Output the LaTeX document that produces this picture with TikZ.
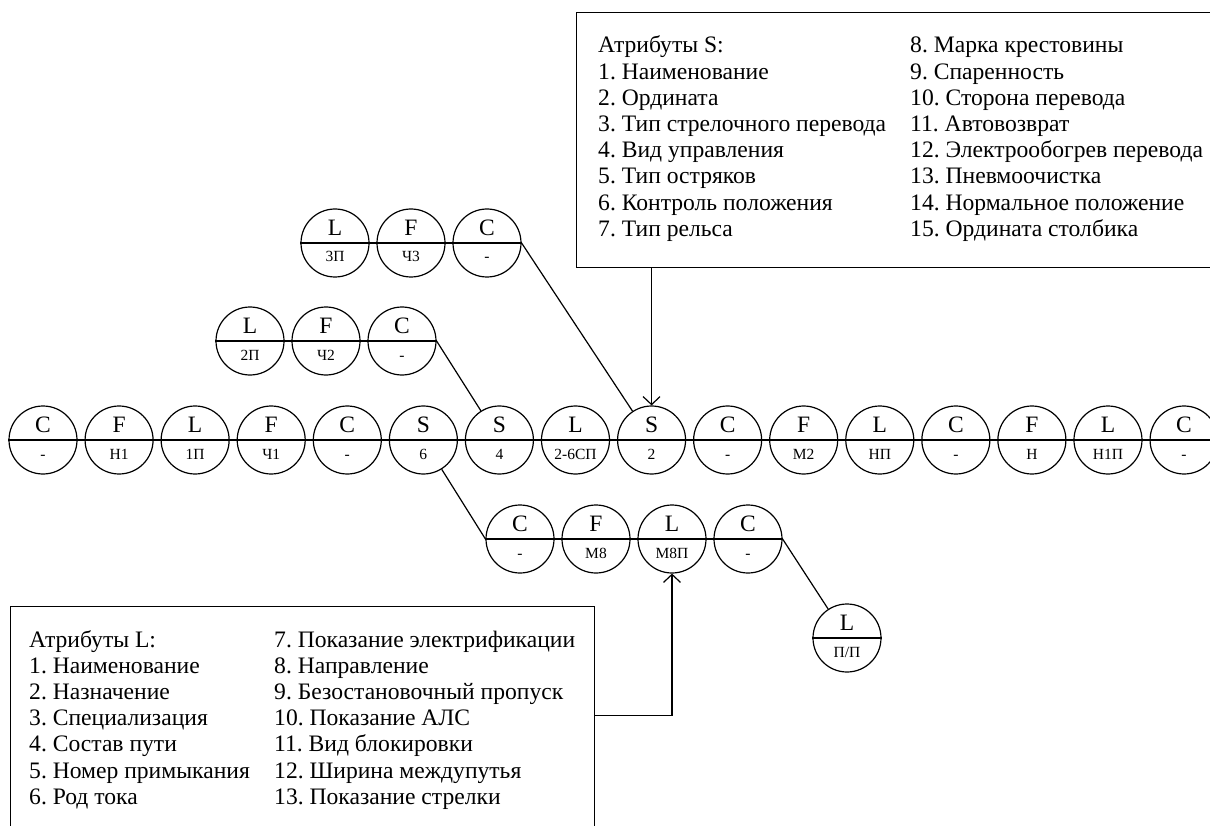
\documentclass[tikz,border=0pt]{standalone}
\usepackage{fontspec}
\setmainfont{Liberation Serif}
\usetikzlibrary{arrows.meta,calc}
\frenchspacing
\tikzset{
  elemc/.style={draw, circle, minimum size=68pt, inner sep=0pt, line width=1.2pt},
  toptxt/.style={anchor=base, inner sep=0pt, font=\fontsize{23.5}{26}\selectfont},
  bottxt/.style={anchor=base, inner sep=0pt, font=\fontsize{15.5}{17}\selectfont},
  chainline/.style={line width=1.2pt},
  conn/.style={line width=1.2pt},
  arr/.style={line width=1.2pt, -{Straight Barb[length=8pt,width=17pt]}},
  attrbox/.style={draw, line width=1.2pt, inner sep=0pt},
  attrtxt/.style={anchor=base west, inner sep=0pt, font=\fontsize{23.6}{26.2}\selectfont},
}
\newcommand\elem[5]{%
  \node[elemc] (#1) at (#2,#3) {};
  \node[toptxt] (#1t) at ([yshift=7.7pt]#1.center) {#4};
  \node[bottxt] (#1b) at ([yshift=-19pt]#1.center) {#5};
}
\begin{document}
\begin{tikzpicture}[x=1pt,y=-1pt]
\useasboundingbox (0,0) rectangle (1210,826);
\clip (0,0) rectangle (1210,826);

% attribute boxes
\node[attrbox, anchor=north west, minimum width=660pt, minimum height=255pt] (sbox) at (575.5,12) {};
\node[attrtxt] (scol1) at (598,53) {\begin{tabular}[t]{@{}l@{}}
Атрибуты S:\\
1. Наименование\\
2. Ордината\\
3. Тип стрелочного перевода\\
4. Вид управления\\
5. Тип остряков\\
6. Контроль положения\\
7. Тип рельса
\end{tabular}};
\node[attrtxt] (scol2) at (910,53) {\begin{tabular}[t]{@{}l@{}}
8. Марка крестовины\\
9. Спаренность\\
10. Сторона перевода\\
11. Автовозврат\\
12. Электрообогрев перевода\\
13. Пневмоочистка\\
14. Нормальное положение\\
15. Ордината столбика
\end{tabular}};

\node[attrbox, anchor=north west, minimum width=584pt, minimum height=240pt] (lbox) at (10,606) {};
\node[attrtxt] (lcol1) at (29,647) {\begin{tabular}[t]{@{}l@{}}
Атрибуты L:\\
1. Наименование\\
2. Назначение\\
3. Специализация\\
4. Состав пути\\
5. Номер примыкания\\
6. Род тока
\end{tabular}};
\node[attrtxt] (lcol2) at (274,647) {\begin{tabular}[t]{@{}l@{}}
7. Показание электрификации\\
8. Направление\\
9. Безостановочный пропуск\\
10. Показание АЛС\\
11. Вид блокировки\\
12. Ширина междупутья\\
13. Показание стрелки
\end{tabular}};

% main row
\elem{m0}{43}{440}{C}{-}
\elem{m1}{119.07}{440}{F}{Н1}
\elem{m2}{195.14}{440}{L}{1П}
\elem{m3}{271.21}{440}{F}{Ч1}
\elem{m4}{347.28}{440}{C}{-}
\elem{m5}{423.35}{440}{S}{6}
\elem{m6}{499.42}{440}{S}{4}
\elem{m7}{575.49}{440}{L}{2-6СП}
\elem{m8}{651.56}{440}{S}{2}
\elem{m9}{727.63}{440}{C}{-}
\elem{m10}{803.7}{440}{F}{М2}
\elem{m11}{879.77}{440}{L}{НП}
\elem{m12}{955.84}{440}{C}{-}
\elem{m13}{1031.91}{440}{F}{Н}
\elem{m14}{1107.98}{440}{L}{Н1П}
\elem{m15}{1184.05}{440}{C}{-}
\draw[chainline] (m0.west) -- (m15.east);

% upper branch 1
\elem{ua}{335}{243}{L}{3П}
\elem{ub}{411}{243}{F}{Ч3}
\elem{uc}{487}{243}{C}{-}
\draw[chainline] (ua.west) -- (uc.east);

% upper branch 2
\elem{va}{250}{341}{L}{2П}
\elem{vb}{326}{341}{F}{Ч2}
\elem{vc}{402}{341}{C}{-}
\draw[chainline] (va.west) -- (vc.east);

% lower branch
\elem{da}{520}{539}{C}{-}
\elem{db}{596}{539}{F}{М8}
\elem{dc}{672}{539}{L}{М8П}
\elem{dd}{748}{539}{C}{-}
\draw[chainline] (da.west) -- (dd.east);

\elem{pa}{847}{638}{L}{П/П}
\draw[chainline] (pa.west) -- (pa.east);

% connectors
\draw[conn] (vc.east) -- (m6);
\draw[conn] (uc.east) -- (m8);
\draw[conn] (m5) -- (da.west);
\draw[conn] (dd.east) -- (pa);

\draw[arr] (sbox.south -| m8) -- (m8.north);
\draw[arr] ([yshift=11pt]lbox.east) -| (dc.south);
\end{tikzpicture}
\end{document}
